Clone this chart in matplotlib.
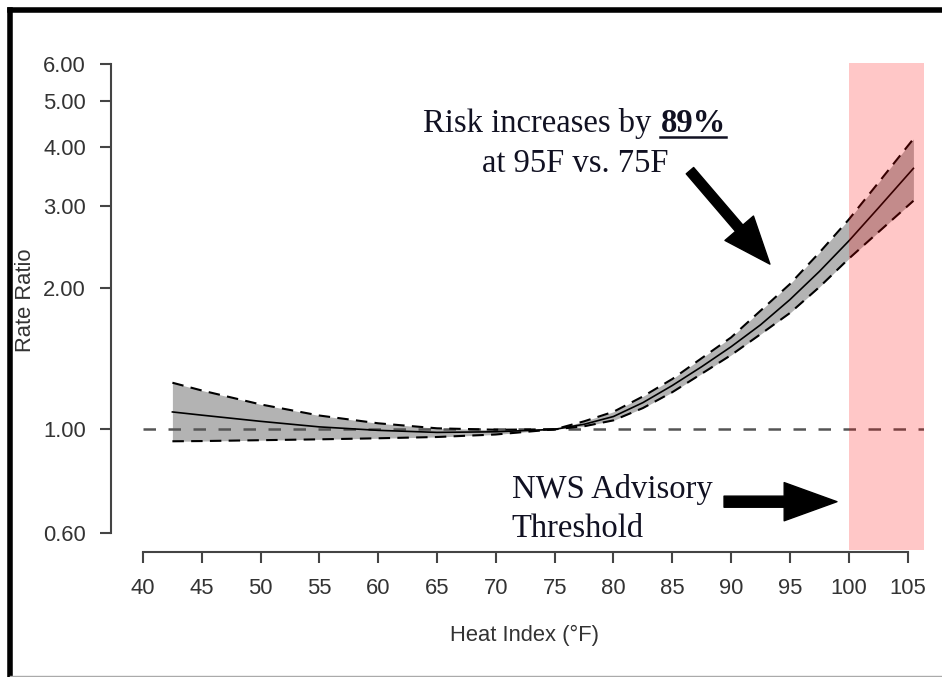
import matplotlib
matplotlib.use("Agg")
import matplotlib.pyplot as plt
from matplotlib.lines import Line2D
from matplotlib.ticker import NullLocator

# valores
heat_index = [42.5, 45, 50, 55, 60, 65, 70, 75, 77.5, 80, 82.5, 85, 87.5, 90,
              92.5, 95, 97.5, 100, 102.5, 105.5]
rr_mid     = [1.089, 1.072, 1.040, 1.012, 0.995, 0.985, 0.988, 1.0, 1.025, 1.065,
              1.14, 1.24, 1.36, 1.50, 1.67, 1.89, 2.17, 2.52, 2.96, 3.60]
rr_upper   = [1.257, 1.210, 1.130, 1.070, 1.030, 1.005, 0.998, 1.0, 1.04, 1.090,
              1.175, 1.28, 1.418, 1.57, 1.79, 2.04, 2.38, 2.80, 3.35, 4.16]
rr_lower   = [0.943, 0.944, 0.948, 0.952, 0.957, 0.963, 0.975, 1.0, 1.015, 1.045,
              1.11, 1.20, 1.314, 1.44, 1.595, 1.77, 2.01, 2.31, 2.63, 3.07]

x_ticks = list(range(40, 106, 5))
y_ticks = [0.6, 1.0, 2.0, 3.0, 4.0, 5.0, 6.0]
y_labels = ["0.60", "1.00", "2.00", "3.00", "4.00", "5.00", "6.00"]
threshold = 100

W, H = 942, 677
plt.rcParams["font.family"] = ["Liberation Sans", "DejaVu Sans"]
fig = plt.figure(figsize=(W / 100, H / 100), dpi=100)

def fx(px):
    return px / W

def fy(py):
    return 1 - py / H

ax = fig.add_axes([fx(143), fy(550), (924 - 143) / W, (550 - 63.3) / H])
ax.set_yscale("log")

ax.fill_between(heat_index, rr_lower, rr_upper, color="#b3b3b3", lw=0, zorder=1)
ax.plot(heat_index, rr_mid, color="black", lw=1.2, zorder=3)
ax.plot(heat_index, rr_upper, color="black", lw=1.5, dashes=(5.5, 3.5), zorder=3)
ax.plot(heat_index, rr_lower, color="black", lw=1.5, dashes=(5.5, 3.5), zorder=3)
ax.axhline(1.0, color="#555555", lw=1.8, dashes=(5, 5), zorder=2)
ax.axvspan(threshold, 106.4, color="#ff0000", alpha=0.22, lw=0, zorder=4)

ax.set_xlim(40, 106.4)
ax.set_ylim(0.553, 6.03)
ax.set_xticks(x_ticks)
ax.set_yticks(y_ticks)
ax.set_yticklabels(y_labels)
ax.yaxis.set_minor_locator(NullLocator())
ax.xaxis.set_minor_locator(NullLocator())

for s in ["top", "right"]:
    ax.spines[s].set_visible(False)
ax.spines["left"].set_position(("outward", 23))
ax.spines["left"].set_bounds(0.6, 6.0)
ax.spines["bottom"].set_position(("outward", 1.5))
ax.spines["bottom"].set_bounds(40, 105)
for s in ["left", "bottom"]:
    ax.spines[s].set_color("#444444")
    ax.spines[s].set_linewidth(1.5)

ax.tick_params(axis="both", length=8, width=1.5, color="#444444",
               labelsize=15.8, labelcolor="#333333")
ax.tick_params(axis="x", pad=11)
ax.tick_params(axis="y", pad=10)

fig.text(fx(26), fy(300), "Rate Ratio", rotation=90, ha="center", va="center",
         fontsize=15.8, color="#333333")
fig.text(fx(525), fy(641), "Heat Index (°F)", ha="center", va="baseline",
         fontsize=15.8, color="#333333")

# anotações
serif = ["Liberation Serif", "DejaVu Serif"]
tcol = "#111122"
fs = 23.5
renderer = fig.canvas.get_renderer()
t1 = fig.text(fx(423), fy(131.7), "Risk increases by", family=serif,
              fontsize=fs, color=tcol, va="baseline", ha="left")
bb1 = t1.get_window_extent(renderer)
t2 = fig.text((bb1.x1 + 9) / W, fy(131.7), "89%", family=serif, fontsize=fs,
              weight="bold", color=tcol, va="baseline", ha="left")
bb2 = t2.get_window_extent(renderer)
fig.add_artist(Line2D([bb2.x0 / W, bb2.x1 / W], [fy(137), fy(137)],
                      color=tcol, lw=1.8))
fig.text(fx(575), fy(171.7), "at 95F vs. 75F", family=serif, fontsize=fs,
         color=tcol, va="baseline", ha="center")
fig.text(fx(511.7), fy(498.3), "NWS Advisory", family=serif, fontsize=fs,
         color=tcol, va="baseline", ha="left")
fig.text(fx(511.7), fy(536.7), "Threshold", family=serif, fontsize=fs,
         color=tcol, va="baseline", ha="left")

ax.annotate("", xy=(93.3, 2.25), xytext=(86.5, 3.56),
            arrowprops=dict(arrowstyle="simple,head_length=3.4,head_width=2.7,tail_width=0.7",
                            color="black", shrinkA=0, shrinkB=0, mutation_scale=10),
            zorder=6)
ax.annotate("", xy=(99.0, 0.701), xytext=(89.4, 0.701),
            arrowprops=dict(arrowstyle="simple,head_length=3.8,head_width=2.75,tail_width=0.8",
                            color="black", shrinkA=0, shrinkB=0, mutation_scale=10),
            zorder=6)

# moldura
fig.add_artist(Line2D([fx(9.5), fx(9.5)], [fy(9.5), fy(H)], color="black", lw=4))
fig.add_artist(Line2D([fx(9.5), 1], [fy(9.5), fy(9.5)], color="black", lw=4))
fig.add_artist(Line2D([fx(9.5), 1], [fy(676), fy(676)], color="#aaaaaa", lw=1))

fig.savefig("out.png", dpi=100)
